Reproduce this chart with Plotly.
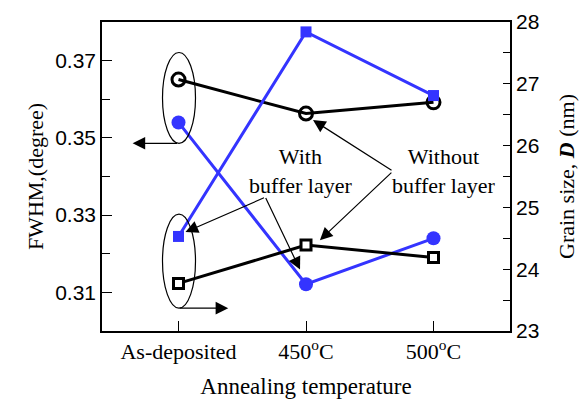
import plotly.graph_objects as go

categories = ["As-deposited", "450<sup>o</sup>C", "500<sup>o</sup>C"]
fwhm_without = [0.3651, 0.3563, 0.3592]   # black open circles (left axis)
fwhm_with = [0.3540, 0.3121, 0.3240]      # blue filled circles (left axis)
grain_with = [24.53, 27.84, 26.81]        # blue filled squares (right axis)
grain_without = [23.77, 24.39, 24.19]     # black open squares (right axis)

left_ticks = [0.31, 0.33, 0.35, 0.37]
right_ticks = [23, 24, 25, 26, 27, 28]

BLUE = "#3434FF"
SERIF = "Liberation Serif"
SANS = "Liberation Sans"
xi = list(range(len(categories)))

fig = go.Figure()
fig.add_trace(go.Scatter(x=xi, y=fwhm_with, mode="lines+markers",
                         line=dict(color=BLUE, width=3),
                         marker=dict(symbol="circle", size=14, color=BLUE),
                         yaxis="y", showlegend=False))
fig.add_trace(go.Scatter(x=xi, y=grain_with, mode="lines+markers",
                         line=dict(color=BLUE, width=3),
                         marker=dict(symbol="square", size=11, color=BLUE),
                         yaxis="y2", showlegend=False))
fig.add_trace(go.Scatter(x=xi, y=fwhm_without, mode="lines+markers",
                         line=dict(color="black", width=3),
                         marker=dict(symbol="circle-open", size=13, color="black",
                                     line=dict(width=3, color="black")),
                         yaxis="y", showlegend=False))
fig.add_trace(go.Scatter(x=xi, y=grain_without, mode="lines+markers",
                         line=dict(color="black", width=3),
                         marker=dict(symbol="square", size=10, color="white",
                                     line=dict(width=3, color="black")),
                         yaxis="y2", showlegend=False))

axis_font = dict(family=SANS, size=21, color="black")
fig.update_layout(
    width=579, height=401,
    margin=dict(l=102, r=69, t=22, b=70, autoexpand=False),
    plot_bgcolor="white", paper_bgcolor="white",
    xaxis=dict(range=[-0.6, 2.6], tickvals=xi, ticktext=categories,
               ticks="inside", ticklen=10, tickwidth=1.3, tickcolor="black",
               showline=True, linecolor="black", linewidth=1.6, mirror=True,
               showgrid=False, zeroline=False, automargin=False,
               tickfont=dict(family=SERIF, size=22, color="black"),
               title=dict(text="Annealing temperature",
                          font=dict(family=SERIF, size=23, color="black"),
                          standoff=15)),
    yaxis=dict(range=[0.30, 0.38], tickvals=left_ticks, ticks="inside",
               ticklen=10, tickwidth=1.3, tickcolor="black",
               minor=dict(ticks="inside", dtick=0.01, tick0=0.30, ticklen=8,
                          tickwidth=1.3, tickcolor="black"),
               showline=True, linecolor="black", linewidth=1.6, mirror=True,
               showgrid=False, zeroline=False, tickfont=axis_font, automargin=False,
               title=dict(text="FWHM,(degree)",
                          font=dict(family=SERIF, size=22, color="black"),
                          standoff=5)),
    yaxis2=dict(range=[23, 28], tickvals=right_ticks, overlaying="y", side="right",
                ticks="inside", ticklen=7, tickwidth=1.3, tickcolor="black",
                minor=dict(ticks="inside", dtick=0.5, tick0=23, ticklen=7,
                           tickwidth=1.3, tickcolor="black"),
                showline=True, linecolor="black", linewidth=1.6,
                showgrid=False, zeroline=False, tickfont=axis_font, automargin=False,
                title=dict(text="Grain size, <b><i>D</i></b> (nm)",
                           font=dict(family=SERIF, size=22, color="black"),
                           standoff=20)),
)

# Ellipses marking the two groups at the first category
fig.add_shape(type="circle", xref="x", yref="y", xsizemode="pixel", xanchor=0,
              x0=-16, x1=17, y0=0.3486, y1=0.3721,
              line=dict(color="black", width=1.2))
fig.add_shape(type="circle", xref="x", yref="y2", xsizemode="pixel", xanchor=0,
              x0=-16, x1=17, y0=23.37, y1=24.89,
              line=dict(color="black", width=1.2))

arrow = dict(showarrow=True, arrowhead=2, arrowsize=2.1, arrowwidth=1.2,
             arrowcolor="black", text="")
# axis-indicator arrows
fig.add_annotation(x=-0.36, y=0.3486, xref="x", yref="y", ax=46, ay=0, **arrow)
fig.add_annotation(x=0.39, y=23.37, xref="x", yref="y2", ax=-50, ay=0, **arrow)

# "With buffer layer" arrows
fig.add_annotation(x=0.055, y=24.60, xref="x", yref="y2", ax=80, ay=-35, **arrow)
fig.add_annotation(x=0.953, y=0.3159, xref="x", yref="y", ax=-35, ay=-73, **arrow)
# "Without buffer layer" arrows
fig.add_annotation(x=1.055, y=0.3546, xref="x", yref="y", ax=80, ay=51, **arrow)
fig.add_annotation(x=1.109, y=24.47, xref="x", yref="y2", ax=73, ay=-69, **arrow)

txt_font = dict(family=SERIF, size=22, color="black")
fig.add_annotation(x=0.953, y=0.3414, xref="x", yref="y", text="With<br>buffer layer",
                   showarrow=False, font=txt_font, align="center")
fig.add_annotation(x=2.078, y=0.3414, xref="x", yref="y", text="Without<br>buffer layer",
                   showarrow=False, font=txt_font, align="center")

fig.write_html("out.html")
